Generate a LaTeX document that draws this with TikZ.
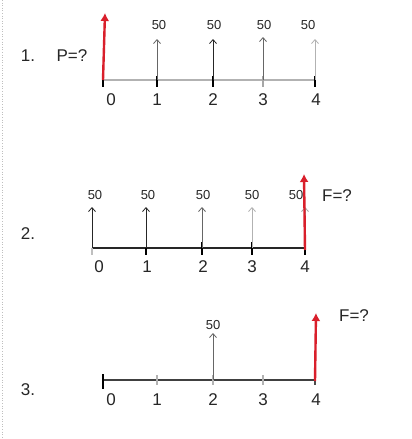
\documentclass[tikz,border=0pt]{standalone}
\usepackage{fontspec}
\setmainfont{Liberation Sans}
\usetikzlibrary{arrows.meta}
\definecolor{cfred}{HTML}{D91F2B}
\definecolor{txt}{HTML}{262626}
\tikzset{
  num/.style={font=\fontsize{17}{17}\selectfont, text=txt, inner sep=0pt},
  amt/.style={font=\fontsize{13}{13}\selectfont, text=txt, inner sep=0pt},
  qlab/.style={font=\fontsize{17}{17}\selectfont, text=txt, inner sep=0pt},
  flow/.style={line width=0.9pt, -{Straight Barb[length=4pt,width=7pt,line width=0.8pt]}},
  redflow/.style={cfred, line width=2.4pt, -{Latex[length=8pt,width=9pt]}},
  tick/.style={line width=2pt, black},
}
\begin{document}
\begin{tikzpicture}[x=1pt,y=-1pt]
\useasboundingbox (0,0) rectangle (412,439);
\fill[white] (0,0) rectangle (412,439);
\coordinate (bt) at (2,0);
\coordinate (bb) at (2,439);
\draw[gray!50, line width=0.6pt, dotted] (bt) -- (bb);

% ---------- Diagram 1 ----------
\node[qlab] (n1) at (28,56) {1.};
\node[qlab] (p1) at (72,56) {P=?};
\foreach \i/\x in {0/103,1/157,2/213,3/263,4/315}{
  \coordinate (a1-\i) at (\x,80);
  \coordinate (a1t-\i) at (\x,76);
  \coordinate (a1b-\i) at (\x,87);
}
\draw[gray!60, line width=1.6pt] (a1-0) -- (a1-4);
\draw[tick] (a1t-0) -- (a1b-0);
\draw[tick] (a1t-1) -- (a1b-1);
\draw[tick] (a1t-2) -- (a1b-2);
\draw[tick, gray!70, line width=1.4pt] (a1t-3) -- (a1b-3);
\draw[tick] (a1t-4) -- (a1b-4);
\coordinate (u1-1) at (157,39);
\coordinate (u1-2) at (213,39);
\coordinate (u1-3) at (263,37);
\coordinate (u1-4) at (315,39);
\draw[flow, gray!80!black] (a1-1) -- (u1-1);
\draw[flow, black!85] (a1-2) -- (u1-2);
\draw[flow, gray!80!black] (a1-3) -- (u1-3);
\draw[flow, gray!60] (a1-4) -- (u1-4);
\coordinate (r1t) at (105,13);
\draw[redflow] (a1-0) -- (r1t);
\node[amt] (f1-1) at (159,25) {50};
\node[amt] (f1-2) at (214,25) {50};
\node[amt] (f1-3) at (264,25) {50};
\node[amt] (f1-4) at (308,25) {50};
\node[num] (d1-0) at (111,100) {0};
\node[num] (d1-1) at (157,100) {1};
\node[num] (d1-2) at (213,100) {2};
\node[num] (d1-3) at (263,100) {3};
\node[num] (d1-4) at (316,100) {4};

% ---------- Diagram 2 ----------
\node[qlab] (n2) at (28,234) {2.};
\foreach \i/\x in {0/92,1/146,2/202,3/252,4/305}{
  \coordinate (a2-\i) at (\x,248);
  \coordinate (a2t-\i) at (\x,242);
  \coordinate (a2b-\i) at (\x,255);
}
\draw[black!85, line width=2pt] (a2-0) -- (a2-4);
\draw[gray!50, line width=1.4pt] (a2-0) -- (a2b-0);
\draw[tick] (a2-1) -- (a2b-1);
\draw[tick] (a2t-2) -- (a2b-2);
\draw[tick] (a2t-3) -- (a2b-3);
\draw[tick] (a2-4) -- (a2b-4);
\coordinate (u2-0) at (92,207);
\coordinate (u2-1) at (146,207);
\coordinate (u2-2) at (202,207);
\coordinate (u2-3) at (252,207);
\coordinate (u2-4) at (305,207);
\draw[flow, black!85] (a2-0) -- (u2-0);
\draw[flow, black!85] (a2-1) -- (u2-1);
\draw[flow, gray!80!black] (a2-2) -- (u2-2);
\draw[flow, gray!60] (a2-3) -- (u2-3);
\draw[flow, gray!70] (a2-4) -- (u2-4);
\coordinate (r2b) at (305,250);
\coordinate (r2t) at (304,174);
\draw[redflow] (r2b) -- (r2t);
\node[amt] (f2-0) at (95,195) {50};
\node[amt] (f2-1) at (148,195) {50};
\node[amt] (f2-2) at (203,195) {50};
\node[amt] (f2-3) at (252,195) {50};
\node[amt] (f2-4) at (296,195) {50};
\node[qlab] (F2) at (337,196) {F=?};
\node[num] (d2-0) at (99,267) {0};
\node[num] (d2-1) at (147,267) {1};
\node[num] (d2-2) at (203,267) {2};
\node[num] (d2-3) at (252,267) {3};
\node[num] (d2-4) at (305,267) {4};

% ---------- Diagram 3 ----------
\node[qlab] (n3) at (28,390) {3.};
\foreach \i/\x in {0/103,1/157,2/213,3/263,4/315}{
  \coordinate (a3-\i) at (\x,380);
  \coordinate (a3t-\i) at (\x,375);
  \coordinate (a3b-\i) at (\x,385);
}
\draw[black!75, line width=1.4pt] (a3-0) -- (a3-4);
\coordinate (a3tt-0) at (103,374);
\coordinate (a3bb-0) at (103,389);
\draw[tick, line width=2.2pt] (a3tt-0) -- (a3bb-0);
\draw[gray!60, line width=1.3pt] (a3t-1) -- (a3b-1);
\draw[gray!60, line width=1.3pt] (a3t-2) -- (a3b-2);
\draw[gray!60, line width=1.3pt] (a3t-3) -- (a3b-3);
\draw[black!70, line width=1.3pt] (a3-4) -- (a3b-4);
\coordinate (u3-2) at (213,333);
\draw[flow, gray!80!black] (a3-2) -- (u3-2);
\coordinate (r3b) at (315,381);
\coordinate (r3t) at (316,313);
\draw[redflow] (r3b) -- (r3t);
\node[amt] (f3-2) at (213,325) {50};
\node[qlab] (F3) at (354,316) {F=?};
\node[num] (d3-0) at (111,400) {0};
\node[num] (d3-1) at (157,400) {1};
\node[num] (d3-2) at (213,400) {2};
\node[num] (d3-3) at (263,400) {3};
\node[num] (d3-4) at (316,400) {4};
\end{tikzpicture}
\end{document}
